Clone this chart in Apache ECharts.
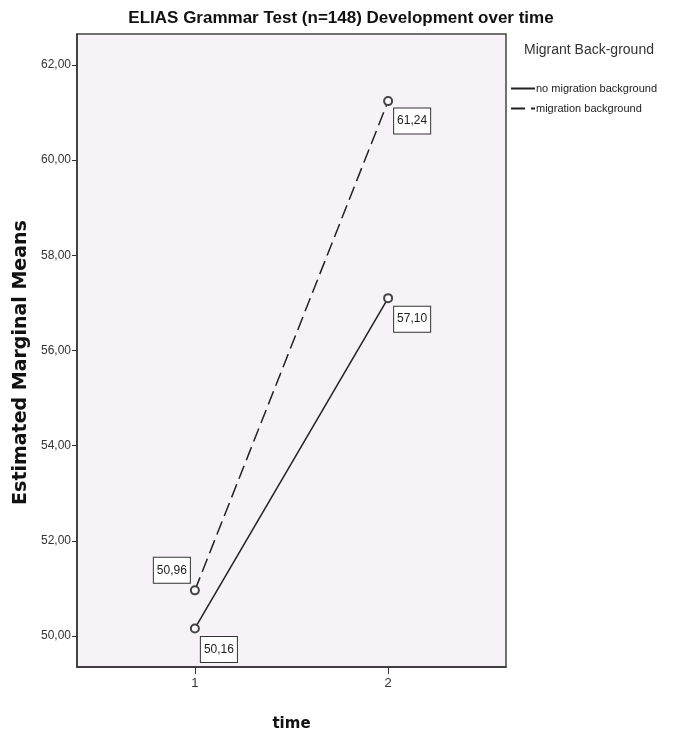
<!DOCTYPE html>
<html><head><meta charset="utf-8">
<script src="https://cdn.jsdelivr.net/npm/echarts@6/dist/echarts.min.js"></script>
<style>html,body{margin:0;padding:0;background:#fff}#c{width:676px;height:738px}</style>
</head><body><div id="c"></div>
<script>
const timePoints = [1, 2];
const noMigration = [50.16, 57.10];
const migration = [50.96, 61.24];
const yTicks = [50, 52, 54, 56, 58, 60, 62];
const xTicks = [1, 2];
const seriesNames = ['no migration background', 'migration background'];

const SANS = '"Liberation Sans", Arial, sans-serif';
const fmt = v => v.toFixed(2).replace('.', ',');

const chart = echarts.init(document.getElementById('c'), null, {renderer: 'canvas'});

const boxLabel = {
  show: true, formatter: p => fmt(p.value[1]),
  fontFamily: SANS, fontSize: 12, color: '#222', backgroundColor: '#fff',
  borderColor: '#333', borderWidth: 1, padding: [7, 3, 6, 3]
};

chart.setOption({
  animation: false,
  title: [
    {text: 'ELIAS Grammar Test (n=148) Development over time', left: 336, top: 5, textAlign: 'center',
     textStyle: {fontFamily: SANS, fontWeight: 'bold', fontSize: 17, color: '#111'}},
    {text: 'Migrant Back-ground', left: 519, top: 38,
     textStyle: {fontFamily: SANS, fontWeight: 'normal', fontSize: 14, color: '#333'}}
  ],
  legend: {
    orient: 'vertical', left: 505, top: 78, itemGap: 9, itemWidth: 24, itemHeight: 8,
    data: seriesNames,
    itemStyle: {opacity: 0},
    textStyle: {fontFamily: SANS, fontSize: 11, color: '#222', padding: [0, 0, 0, -4]}
  },
  grid: {left: 77, right: 170, top: 34, bottom: 71, show: true, backgroundColor: '#f7f2f7',
         borderColor: '#444', borderWidth: 1.5, containLabel: false},
  xAxis: {
    type: 'value', min: 0.39, max: 2.61,
    name: 'time', nameLocation: 'middle', nameGap: 50,
    nameTextStyle: {fontFamily: 'DejaVu Sans', fontWeight: 'bold', fontSize: 15, color: '#111'},
    axisLine: {show: true, lineStyle: {color: '#333', width: 1.5}},
    axisTick: {show: true, inside: false, length: 7, customValues: xTicks, lineStyle: {color: '#333'}},
    axisLabel: {customValues: xTicks, fontFamily: SANS, fontSize: 13, color: '#333', margin: 10},
    splitLine: {show: false}
  },
  yAxis: {
    type: 'value', min: 49.35, max: 62.65,
    name: 'Estimated Marginal Means', nameLocation: 'middle', nameGap: 42, nameRotate: 90,
    nameTextStyle: {fontFamily: 'DejaVu Sans', fontWeight: 'bold', fontSize: 19, color: '#111', padding: [0, 24, 0, 0]},
    axisLine: {show: true, lineStyle: {color: '#333', width: 1.5}},
    axisTick: {show: true, inside: false, length: 5, customValues: yTicks, lineStyle: {color: '#333'}},
    axisLabel: {customValues: yTicks, formatter: v => fmt(v), fontFamily: SANS, fontSize: 12, color: '#333', margin: 6},
    splitLine: {show: false}
  },
  series: [
    {
      name: seriesNames[0], type: 'line',
      symbol: 'emptyCircle', symbolSize: 8,
      lineStyle: {color: '#222', width: 1.5, type: 'solid'},
      itemStyle: {color: '#444', borderColor: '#444', borderWidth: 1.2},
      label: Object.assign({}, boxLabel, {position: 'right', distance: 1, offset: [0, 21]}),
      data: timePoints.map((t, i) => [t, noMigration[i]])
    },
    {
      name: seriesNames[1], type: 'line',
      symbol: 'emptyCircle', symbolSize: 8,
      lineStyle: {color: '#222', width: 1.5, type: [14, 6]},
      itemStyle: {color: '#444', borderColor: '#444', borderWidth: 1.2},
      label: Object.assign({}, boxLabel),
      data: [
        {value: [timePoints[0], migration[0]], label: {position: 'left', distance: 0, offset: [0, -20]}},
        {value: [timePoints[1], migration[1]], label: {position: 'right', distance: 1, offset: [0, 20]}}
      ]
    }
  ]
});
</script>
</body></html>
